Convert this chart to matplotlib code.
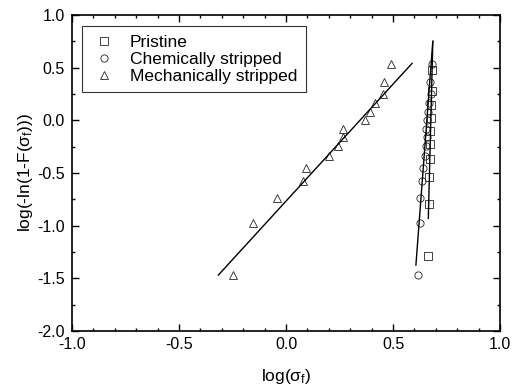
import matplotlib
matplotlib.use('Agg')
import matplotlib.pyplot as plt
from matplotlib.ticker import MultipleLocator, FormatStrFormatter

# Weibull plot data
pristine_x = [0.665, 0.668, 0.670, 0.672, 0.673, 0.675, 0.676, 0.678, 0.680, 0.682]
pristine_y = [-1.29, -0.79, -0.54, -0.366, -0.223, -0.098, 0.021, 0.142, 0.278, 0.477]

chem_x = [0.615, 0.626, 0.628, 0.634, 0.642, 0.650, 0.654, 0.657, 0.654, 0.657,
          0.665, 0.670, 0.676, 0.673, 0.681]
chem_y = [-1.47, -0.977, -0.739, -0.576, -0.448, -0.340, -0.246, -0.159, -0.078, 0.001,
          0.081, 0.163, 0.253, 0.362, 0.532]

mech_x = [-0.246, -0.153, -0.044, 0.081, 0.093, 0.202, 0.245, 0.268, 0.268, 0.369,
          0.393, 0.416, 0.455, 0.458, 0.489]
mech_y = [-1.47, -0.977, -0.739, -0.576, -0.448, -0.340, -0.246, -0.159, -0.078, 0.001,
          0.081, 0.163, 0.253, 0.362, 0.532]

# fitted lines (end points)
fit_pristine_x = [0.665, 0.686]
fit_pristine_y = [-0.93, 0.75]
fit_chem_x = [0.607, 0.686]
fit_chem_y = [-1.374, 0.75]
fit_mech_x = [-0.316, 0.589]
fit_mech_y = [-1.469, 0.541]

plt.rcParams['font.family'] = ['Liberation Sans', 'DejaVu Sans']
plt.rcParams['mathtext.fontset'] = 'custom'
plt.rcParams['mathtext.rm'] = 'Liberation Sans'
plt.rcParams['mathtext.it'] = 'Liberation Sans:italic'

fig = plt.figure(figsize=(5.12, 3.86), dpi=100)
ax = fig.add_axes([0.1406, 0.1425, 0.836, 0.8186])

mk = dict(linestyle='none', markerfacecolor='none', markeredgecolor='#222222',
          markeredgewidth=0.6, markersize=5.2)
ax.plot(pristine_x, pristine_y, marker='s', label='Pristine', **mk)
ax.plot(chem_x, chem_y, marker='o', label='Chemically stripped', **mk)
ax.plot(mech_x, mech_y, marker='^', label='Mechanically stripped', **mk)

for fx, fy in [(fit_pristine_x, fit_pristine_y), (fit_chem_x, fit_chem_y), (fit_mech_x, fit_mech_y)]:
    ax.plot(fx, fy, color='black', linewidth=1.0)

ax.set_xlim(-1.0, 1.0)
ax.set_ylim(-2.0, 1.0)
ax.xaxis.set_major_locator(MultipleLocator(0.5))
ax.xaxis.set_minor_locator(MultipleLocator(0.1))
ax.yaxis.set_major_locator(MultipleLocator(0.5))
ax.yaxis.set_minor_locator(MultipleLocator(0.25))
ax.xaxis.set_major_formatter(FormatStrFormatter('%.1f'))
ax.yaxis.set_major_formatter(FormatStrFormatter('%.1f'))
ax.tick_params(which='both', direction='in', top=True, right=True, labelsize=11.5, width=1.0)
ax.tick_params(which='major', length=5)
ax.tick_params(which='minor', length=2.5)
ax.tick_params(axis='x', which='major', pad=4)
ax.tick_params(axis='y', which='major', pad=5)
for s in ax.spines.values():
    s.set_linewidth(1.2)

ax.set_xlabel(r'log($\mathrm{\sigma_f}$)', fontsize=12.5, labelpad=11)
ax.set_ylabel(r'log(-ln(1-F($\mathrm{\sigma_f}$)))', fontsize=12.5, labelpad=2)

leg = ax.legend(loc='upper left', bbox_to_anchor=(0.023, 0.965), fontsize=12.5,
                frameon=True, fancybox=False, edgecolor='black', handlelength=1.6,
                handletextpad=0.66, borderpad=0.5, labelspacing=0.1, borderaxespad=0)
leg.get_frame().set_linewidth(0.8)

fig.savefig('out.png', dpi=100)
